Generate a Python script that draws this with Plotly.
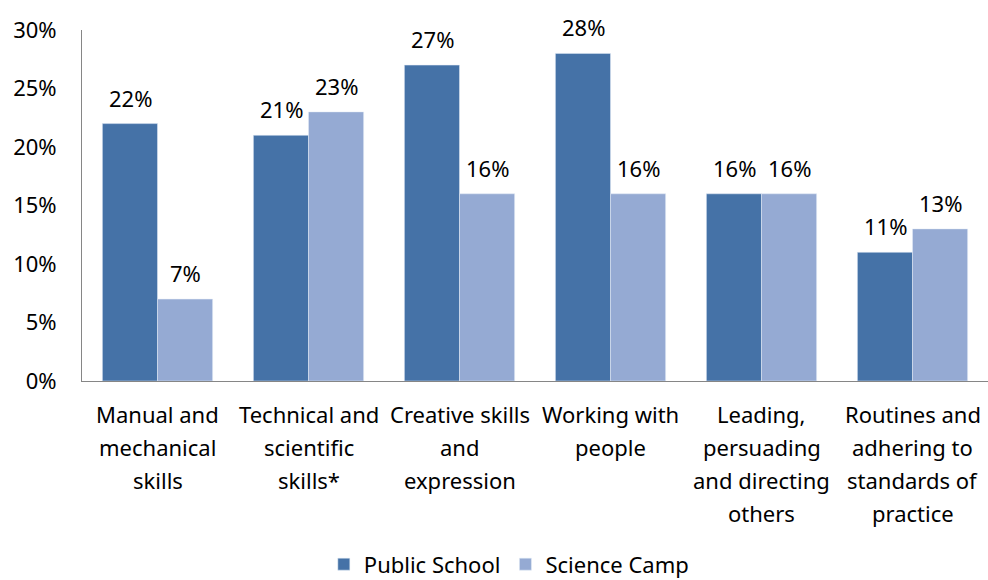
import plotly.graph_objects as go

categories = ["Manual and<br>mechanical<br>skills",
              "Technical and<br>scientific<br>skills*",
              "Creative skills<br>and<br>expression",
              "Working with<br>people",
              "Leading,<br>persuading<br>and directing<br>others",
              "Routines and<br>adhering to<br>standards of<br>practice"]
public_school = [22, 21, 27, 28, 16, 11]
science_camp = [7, 23, 16, 16, 16, 13]
y_ticks = [0, 5, 10, 15, 20, 25, 30]

FONT = "Noto Sans"
FS = 22
C_PUB = "#4572A7"
C_SCI = "#95AAD3"

fig = go.Figure()
fig.add_trace(go.Bar(name="Public School", x=categories, y=public_school, marker_color=C_PUB))
fig.add_trace(go.Bar(name="Science Camp", x=categories, y=science_camp, marker_color=C_SCI))

annotations = []
# data labels
for i, cat in enumerate(categories):
    for vals, shift in ((public_school, -27.5), (science_camp, 27.5)):
        annotations.append(dict(x=cat, y=vals[i], text=f"{vals[i]}%", xshift=shift, yshift=26,
                                showarrow=False, yanchor="middle", xanchor="center",
                                font=dict(family=FONT, size=FS, color="black")))
    # category labels, line by line
    for k, line in enumerate(cat.split("<br>")):
        annotations.append(dict(x=cat, y=0, text=line, yshift=-33 - 33 * k, showarrow=False,
                                yanchor="middle", xanchor="center",
                                font=dict(family=FONT, size=FS, color="black")))

fig.update_layout(
    width=988, height=580,
    margin=dict(l=82, r=0, t=30, b=199, autoexpand=False),
    plot_bgcolor="white", paper_bgcolor="white",
    barmode="group", bargap=0.27, bargroupgap=0,
    font=dict(family=FONT, size=FS, color="black"),
    xaxis=dict(showticklabels=False, showline=True, linecolor="#868686", linewidth=1,
               ticks="", showgrid=False),
    yaxis=dict(range=[0, 30], tickvals=y_ticks, ticktext=[f"{t}%" for t in y_ticks],
               showline=True, linecolor="#868686", linewidth=1, ticks="", showgrid=False,
               zeroline=False, ticklabelstandoff=20, tickfont=dict(size=FS)),
    legend=dict(orientation="h", xref="container", yref="container", x=0.515, y=0.027,
                xanchor="center", yanchor="middle", font=dict(size=FS),
                itemwidth=30, traceorder="normal"),
    annotations=annotations,
)
fig.write_html("out.html", config={"displayModeBar": False})

# remove the default page margin so the figure sits at the window's corner
with open("out.html", encoding="utf-8") as f:
    html = f.read()
html = html.replace("<body>", '<body style="margin:0;padding:0;overflow:hidden">', 1)
with open("out.html", "w", encoding="utf-8") as f:
    f.write(html)
